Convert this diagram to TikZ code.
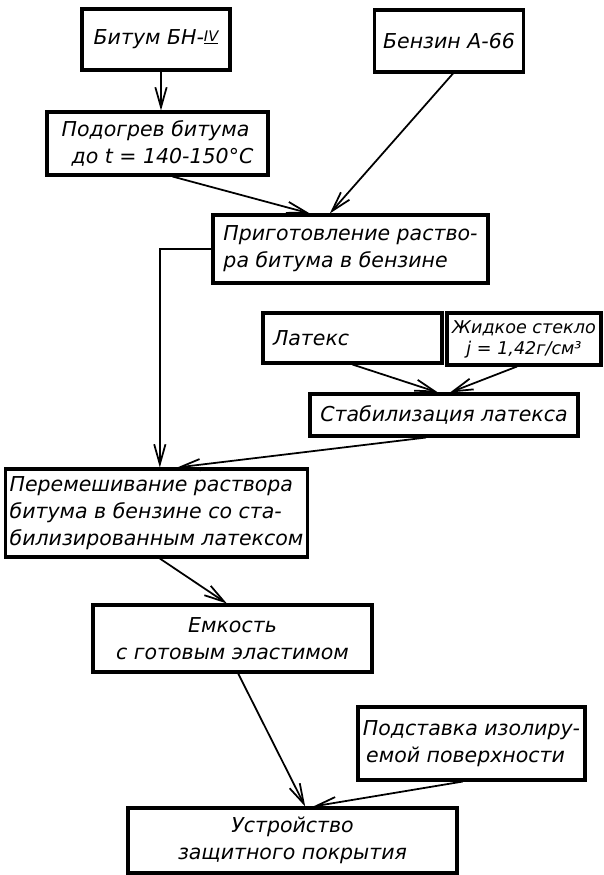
\documentclass[tikz,border=0pt]{standalone}
\usepackage{fontspec}
\setmainfont{DejaVu Sans}
\usetikzlibrary{arrows.meta}

\begin{document}
\begin{tikzpicture}
	[x=0.03cm,y=-0.03cm,
	 box/.style={rectangle,draw,line width=2.6pt,inner xsep=0.25cm,font=\fontsize{17.5}{23}\selectfont\itshape},
	 >={Straight Barb[length=0.6cm,width=0.34cm]}]
    \useasboundingbox (0,0) rectangle (603,875);

    \node[box,minimum width=4.44cm,minimum height=1.83cm] (bitum) at (156,39.5)
        {Битум БН-\raisebox{0.3ex}{\fontsize{12.5}{12.5}\selectfont\underline{IV}}};
    \node[box,minimum width=4.38cm,minimum height=1.86cm] (benzin) at (449,41) {Бензин А-66};
    \node[box,minimum width=6.63cm,minimum height=1.89cm,align=left] (podogrev) at (157.5,143.5)
        {Подогрев битума\\\hspace*{0.3cm}до t = 140-150°C};
    \node[box,minimum width=8.25cm,minimum height=2.04cm,align=left] (prigot) at (350.5,249)
        {Приготовление раство-\\ра битума в бензине};
    \node[box,minimum width=5.37cm,minimum height=1.5cm,text width=4.77cm] (lateks) at (352.5,338) {Латекс};
    \node[box,minimum width=4.62cm,minimum height=1.56cm,inner xsep=0.05cm,align=center,
          font=\fontsize{15}{18}\selectfont\itshape] (steklo) at (524,339)
        {Жидкое стекло\\j = 1,42г/см³};
    \node[box,minimum width=8.04cm,minimum height=1.26cm] (stab) at (444,415) {Стабилизация латекса};
    \node[box,minimum width=8.91cm,minimum height=2.64cm,inner xsep=0.12cm,align=left] (peremesh) at (156.5,513)
        {Перемешивание раствора\\битума в бензине со ста-\\билизированным латексом};
    \node[box,minimum width=8.37cm,minimum height=2.01cm,align=center] (emkost) at (232.5,638.5)
        {Емкость\\с готовым эластимом};
    \node[box,minimum width=6.81cm,minimum height=2.19cm,inner xsep=0.12cm,align=left] (podstavka) at (471.5,743.5)
        {Подставка изолиру-\\\hspace*{0.1cm}емой поверхности};
    \node[box,minimum width=9.87cm,minimum height=1.95cm,align=center] (ustr) at (292.5,840.5)
        {Устройство\\защитного покрытия};

    \draw[line width=1.5pt,->] ([xshift=0.15cm]bitum.south) -- ([xshift=0.15cm]bitum.south |- podogrev.north);
    \draw[line width=1.5pt,->] ([xshift=0.45cm]podogrev.south) -- ([xshift=-1.22cm]prigot.north);
    \draw[line width=1.5pt,->] ([xshift=0.12cm]benzin.south) -- ([xshift=-0.62cm]prigot.north);
    \draw[line width=1.5pt,->] (prigot.west) -| ([xshift=0.1cm]peremesh.north);
    \draw[line width=1.5pt,->] (lateks.south) -- ([xshift=-0.18cm]stab.north);
    \draw[line width=1.5pt,->] ([xshift=-0.21cm]steklo.south) -- ([xshift=0.18cm]stab.north);
    \draw[line width=1.5pt,->] ([xshift=-0.54cm]stab.south) -- ([xshift=0.62cm]peremesh.north);
    \draw[line width=1.5pt,->] ([xshift=0.1cm]peremesh.south) -- ([xshift=-0.17cm]emkost.north);
    \draw[line width=1.5pt,->] ([xshift=0.17cm]emkost.south) -- ([xshift=0.38cm]ustr.north);
    \draw[line width=1.5pt,->] ([xshift=-0.26cm]podstavka.south) -- ([xshift=0.62cm]ustr.north);

\end{tikzpicture}
\end{document}
